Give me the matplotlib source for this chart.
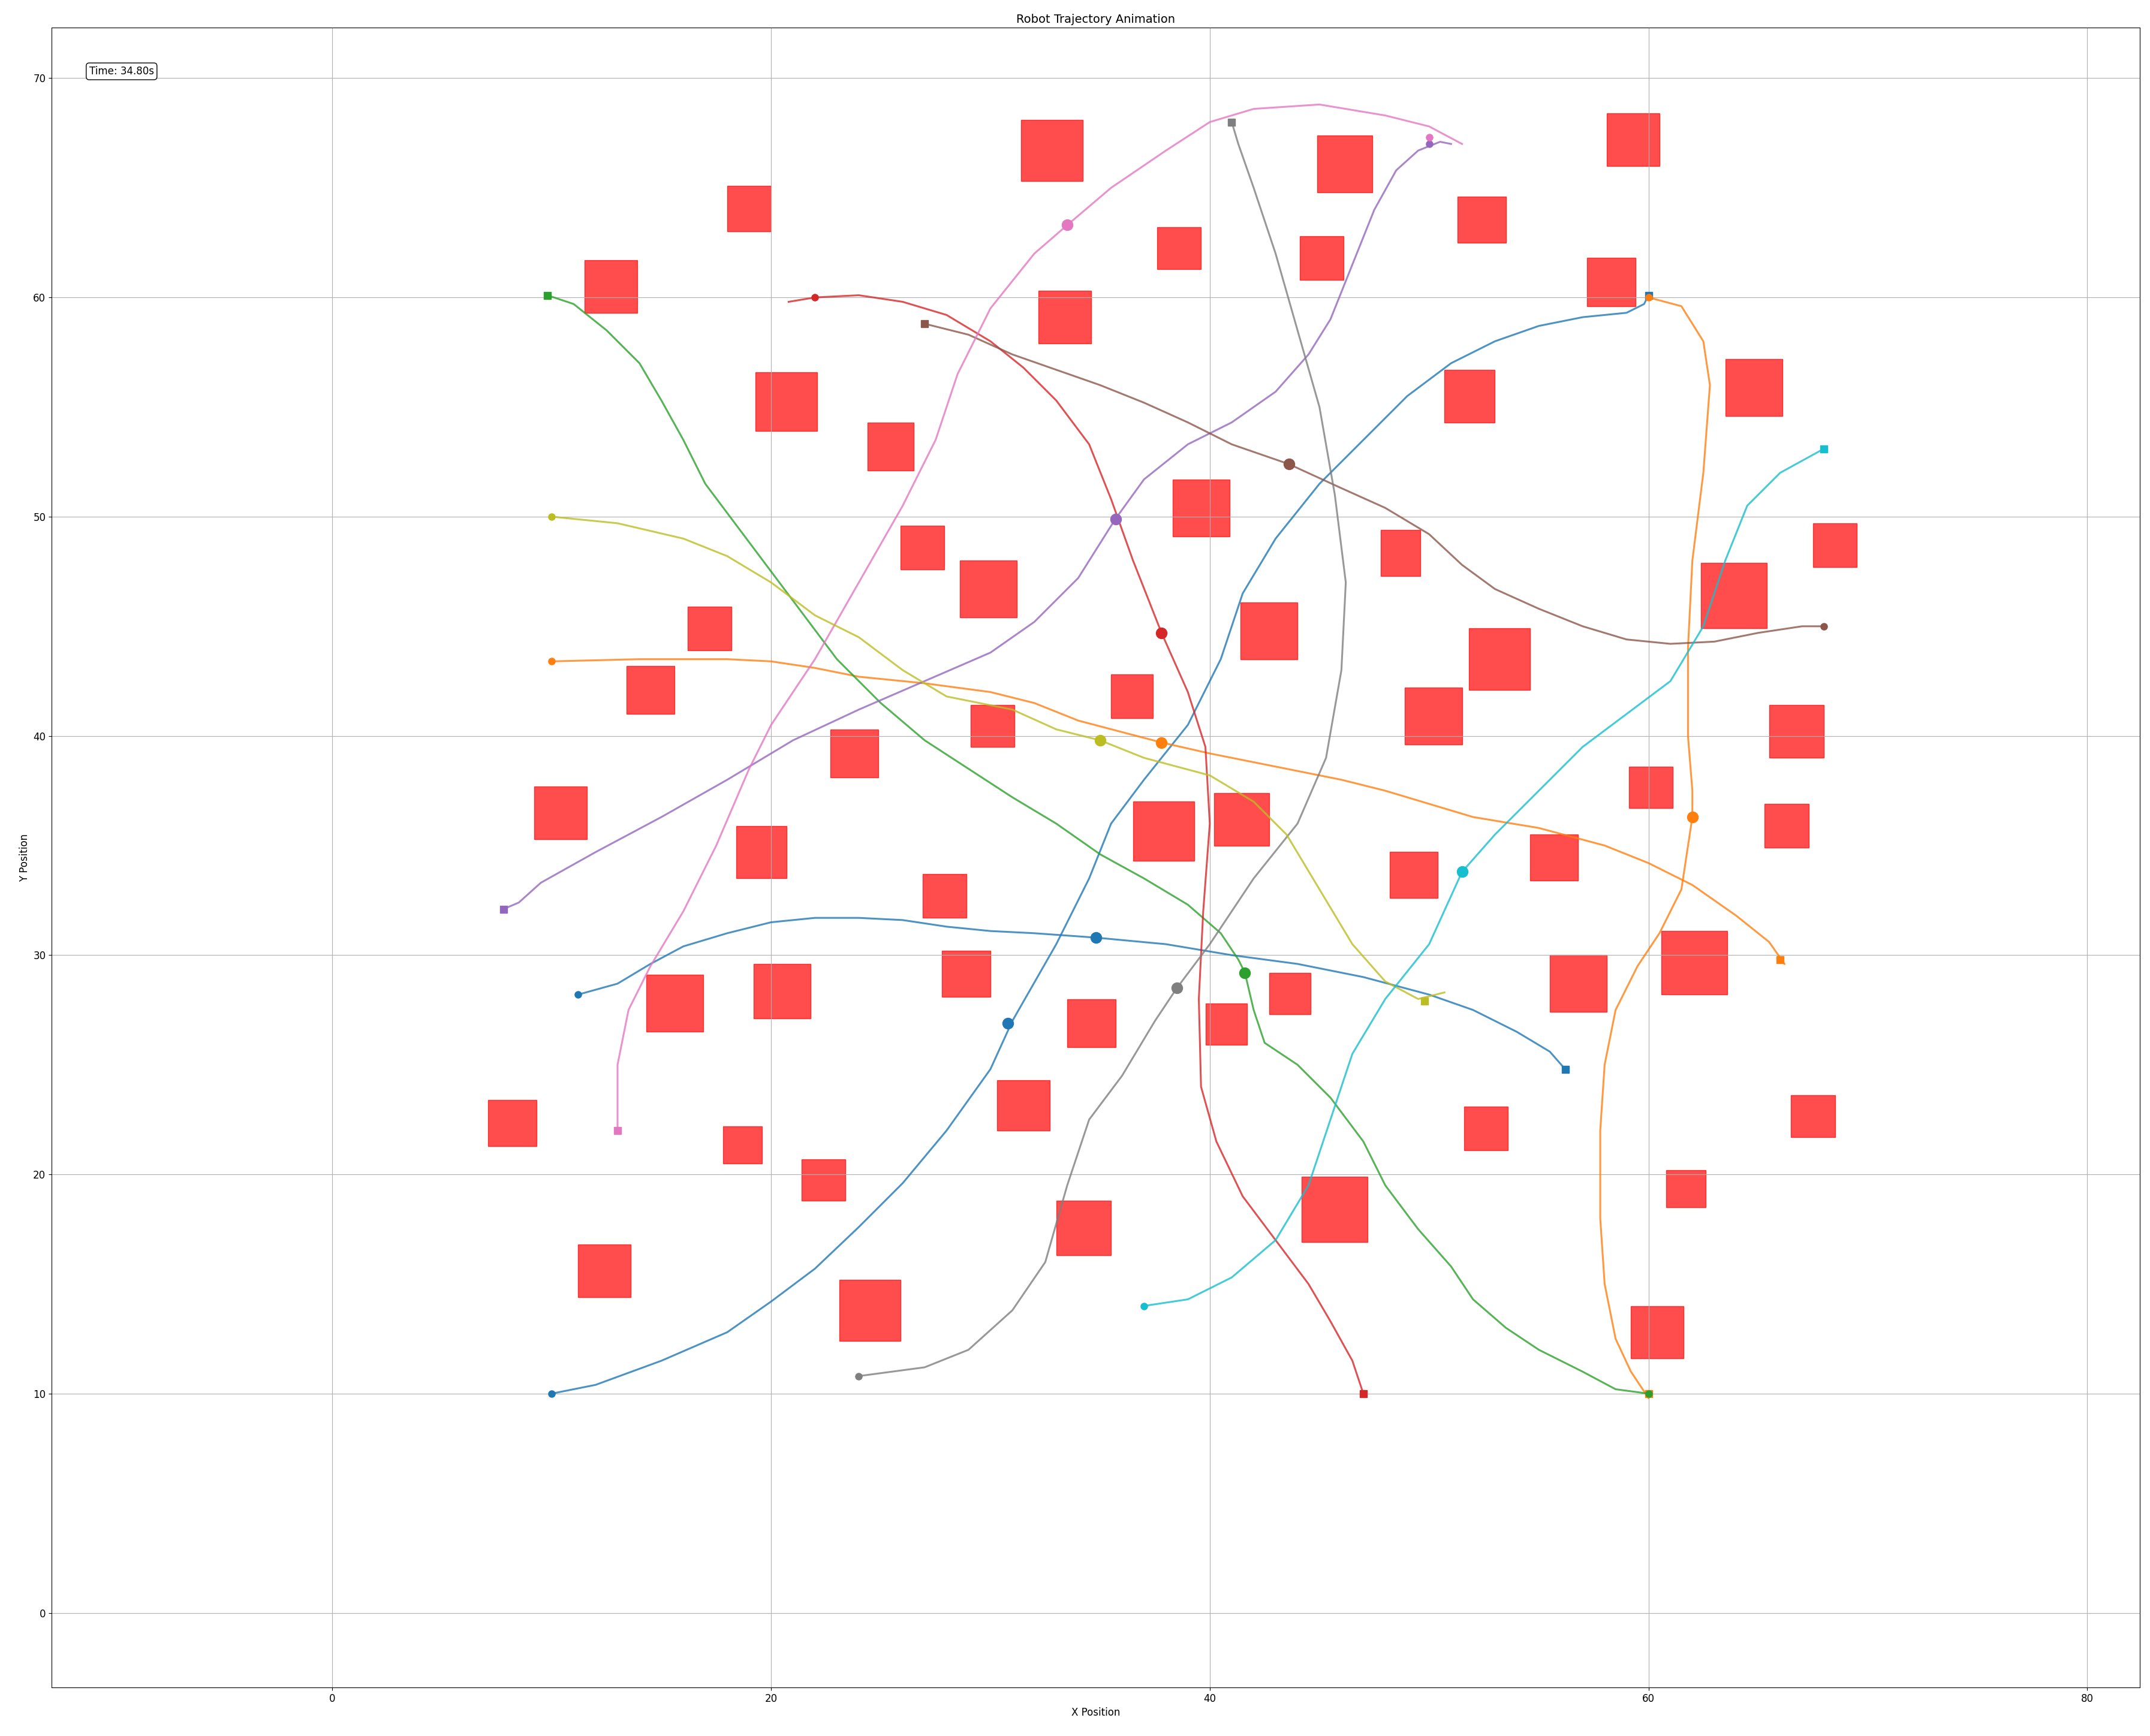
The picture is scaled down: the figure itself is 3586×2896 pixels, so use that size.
import matplotlib
matplotlib.use("Agg")
import matplotlib.pyplot as plt
from matplotlib.patches import Rectangle

# obstacles: (x0, x1, y0, y1)
obstacles = [
    (31.4,34.2,65.3,68.1),(18.0,20.0,63.0,65.1),(11.5,13.9,59.3,61.7),(19.3,22.1,53.9,56.6),
    (24.4,26.5,52.1,54.3),(32.2,34.6,57.9,60.3),(37.6,39.6,61.3,63.2),(44.9,47.4,64.8,67.4),
    (44.1,46.1,60.8,62.8),(51.3,53.5,62.5,64.6),(58.1,60.5,66.0,68.4),(57.2,59.4,59.6,61.8),
    (50.7,53.0,54.3,56.7),(63.5,66.1,54.6,57.2),(38.3,40.9,49.1,51.7),(25.9,27.9,47.6,49.6),
    (28.6,31.2,45.4,48.0),(16.2,18.2,43.9,45.9),(13.4,15.6,41.0,43.2),(41.4,44.0,43.5,46.1),
    (47.8,49.6,47.3,49.4),(51.8,54.6,42.1,44.9),(48.9,51.5,39.6,42.2),(62.4,65.4,44.9,47.9),
    (67.5,69.5,47.7,49.7),(65.5,68.0,39.0,41.4),(35.5,37.4,40.8,42.8),(29.1,31.1,39.5,41.4),
    (22.7,24.9,38.1,40.3),(9.2,11.6,35.3,37.7),(18.4,20.7,33.5,35.9),(26.9,28.9,31.7,33.7),
    (36.5,39.3,34.3,37.0),(40.2,42.7,35.0,37.4),(48.2,50.4,32.6,34.7),(54.6,56.8,33.4,35.5),
    (59.1,61.1,36.7,38.6),(65.3,67.3,34.9,36.9),(60.6,63.6,28.2,31.1),(55.5,58.1,27.4,30.0),
    (14.3,16.9,26.5,29.1),(19.2,21.8,27.1,29.6),(27.8,30.0,28.1,30.2),(33.5,35.7,25.8,28.0),
    (39.8,41.7,25.9,27.8),(42.7,44.6,27.3,29.2),(30.3,32.7,22.0,24.3),(17.8,19.6,20.5,22.2),
    (21.4,23.4,18.8,20.7),(7.1,9.3,21.3,23.4),(11.2,13.6,14.4,16.8),(23.1,25.9,12.4,15.2),
    (33.0,35.5,16.3,18.8),(44.2,47.2,16.9,19.9),(51.6,53.6,21.1,23.1),(60.8,62.6,18.5,20.2),
    (66.5,68.5,21.7,23.6),(59.2,61.6,11.6,14.0),
]

# trajectories: (color, path, start, goal, current)
blue_a = [(10,10),(12,10.4),(15,11.5),(18,12.8),(20,14.2),(22,15.7),(24,17.6),(26,19.6),(28,22),(30,24.8),(31,27),(33,30.5),(34.5,33.5),(35.5,36),(37,38),(39,40.5),(40.5,43.5),(41.5,46.5),(43,49),(45,51.5),(47,53.5),(49,55.5),(51,57),(53,58),(55,58.7),(57,59.1),(59,59.3),(59.8,59.7),(60,60.1)]
blue_b = [(11.2,28.2),(13,28.7),(14.5,29.6),(16,30.4),(18,31),(20,31.5),(22,31.7),(24,31.7),(26,31.6),(28,31.3),(30,31.1),(32,31),(34.8,30.8),(38,30.5),(41,30),(44,29.6),(47,29),(50,28.2),(52,27.5),(54,26.5),(55.5,25.6),(56.2,24.8)]
orange_a = [(10,43.4),(14,43.5),(18,43.5),(20,43.4),(22,43.1),(24,42.7),(27,42.4),(30,42),(32,41.5),(34,40.7),(37.8,39.7),(40,39.2),(43,38.6),(46,38),(48,37.5),(50,36.9),(52,36.3),(55,35.8),(58,35),(60,34.2),(62,33.2),(64,31.8),(65.5,30.6),(66.2,29.6)]
orange_b = [(60,60),(61.5,59.6),(62.5,58),(62.8,56),(62.5,52),(62,48),(61.8,44),(61.8,40),(62,37.5),(62,36.3),(61.5,33),(60.5,31),(59.5,29.5),(58.5,27.5),(58,25),(57.8,22),(57.8,18),(58,15),(58.5,12.5),(59.2,11),(60,9.8)]
green = [(9.8,60.1),(11,59.7),(12.5,58.5),(14,57),(15,55.3),(16,53.5),(17,51.5),(18.5,49.5),(20,47.5),(21.5,45.5),(23,43.5),(25,41.5),(27,39.8),(29,38.5),(31,37.2),(33,36),(35,34.6),(37,33.5),(39,32.3),(40.5,31),(41.3,29.8),(41.6,29.2),(42,27.5),(42.5,26),(44,25),(45.5,23.5),(47,21.5),(48,19.5),(49.5,17.5),(51,15.8),(52,14.3),(53.5,13),(55,12),(57,11),(58.5,10.2),(60,10)]
red = [(20.8,59.8),(22,60),(24,60.1),(26,59.8),(28,59.2),(30,58),(31.5,56.8),(33,55.3),(34.5,53.3),(35.5,50.8),(36.5,48),(37.8,44.7),(39,42),(39.8,39.5),(40,36),(39.7,32),(39.5,28),(39.6,24),(40.3,21.5),(41.5,19),(43,17),(44.5,15),(45.5,13.3),(46.5,11.5),(47,10)]
purple = [(7.8,32.1),(8.5,32.4),(9.5,33.3),(12,34.7),(15,36.3),(18,38),(21,39.8),(24,41.2),(27,42.5),(30,43.8),(32,45.2),(34,47.2),(35.7,49.9),(37,51.7),(39,53.3),(41,54.3),(43,55.7),(44.5,57.4),(45.5,59),(46.5,61.5),(47.5,64),(48.5,65.8),(49.5,66.7),(50.5,67.1),(51,67)]
brown = [(27,58.8),(29,58.3),(31,57.4),(33,56.7),(35,56),(37,55.2),(39,54.3),(41,53.3),(43.6,52.4),(46,51.3),(48,50.4),(50,49.2),(51.5,47.8),(53,46.7),(55,45.8),(57,45),(59,44.4),(61,44.2),(63,44.3),(65,44.7),(67,45),(68,45)]
pink = [(13,22),(13,25),(13.5,27.5),(14.5,29.5),(16,32),(17.5,35),(19,38.5),(20,40.5),(22,43.5),(24,47),(26,50.5),(27.5,53.5),(28.5,56.5),(30,59.5),(32,62),(33.5,63.3),(35.5,65),(38,66.7),(40,68),(42,68.6),(45,68.8),(48,68.3),(50,67.8),(51.5,67)]
gray = [(24,10.8),(27,11.2),(29,12),(31,13.8),(32.5,16),(33.5,19.5),(34.5,22.5),(36,24.5),(37.5,27),(38.5,28.5),(40,30.5),(42,33.5),(44,36),(45.3,39),(46,43),(46.2,47),(45.7,51),(45,55),(44,58.5),(43,62),(42,65),(41.3,67),(41,68)]
olive = [(10,50),(13,49.7),(16,49),(18,48.2),(20,47),(22,45.5),(24,44.5),(26,43),(28,41.8),(31,41.2),(33,40.3),(35,39.8),(37,39),(40,38.2),(42,37),(43.5,35.5),(45,33),(46.5,30.5),(48,28.8),(49.5,28),(50.7,28.3)]
cyan = [(37,14),(39,14.3),(41,15.3),(43,17),(44.5,19.5),(45.5,22.5),(46.5,25.5),(48,28),(50,30.5),(51.5,33.8),(53,35.5),(55,37.5),(57,39.5),(59,41),(61,42.5),(62.5,45),(63.5,48),(64.5,50.5),(66,52),(68,53.1)]

robots = [
    ("tab:blue", blue_a, (10,10), (60,60.1), (30.8,26.9)),
    ("tab:blue", blue_b, (11.2,28.2), (56.2,24.8), (34.8,30.8)),
    ("tab:orange", orange_a, (10,43.4), (66,29.8), (37.8,39.7)),
    ("tab:orange", orange_b, (60,60), (60,10), (62,36.3)),
    ("tab:green", green, (60,10), (9.8,60.1), (41.6,29.2)),
    ("tab:red", red, (22,60), (47,10), (37.8,44.7)),
    ("tab:purple", purple, (50,67), (7.8,32.1), (35.7,49.9)),
    ("tab:brown", brown, (68,45), (27,58.8), (43.6,52.4)),
    ("tab:pink", pink, (50,67.3), (13,22), (33.5,63.3)),
    ("tab:gray", gray, (24,10.8), (41,68), (38.5,28.5)),
    ("tab:olive", olive, (10,50), (49.8,27.9), (35,39.8)),
    ("tab:cyan", cyan, (37,14), (68,53.1), (51.5,33.8)),
]

fig, ax = plt.subplots(figsize=(35.87, 28.96), dpi=100)
fig.subplots_adjust(left=0.024, right=0.995, top=0.984, bottom=0.028)

for x0, x1, y0, y1 in obstacles:
    ax.add_patch(Rectangle((x0, y0), x1 - x0, y1 - y0, facecolor="red", edgecolor="red", alpha=0.7))

for color, path, s, g, c in robots:
    xs, ys = zip(*path)
    ax.plot(xs, ys, color=color, lw=2.2, alpha=0.8)
    ax.plot(*s, "o", color=color, ms=8)
    ax.plot(*g, "s", color=color, ms=8)
    ax.plot(*c, "o", color=color, ms=13)

ax.set_xlim(-12.8, 82.4)
ax.set_ylim(-3.4, 72.3)
ax.grid(True)
ax.set_title("Robot Trajectory Animation", fontsize=14)
ax.set_xlabel("X Position", fontsize=12)
ax.set_ylabel("Y Position", fontsize=12)
ax.tick_params(labelsize=12)
ax.text(0.018, 0.977, "Time: 34.80s", transform=ax.transAxes, fontsize=12, va="top",
        bbox=dict(boxstyle="round", facecolor="white", edgecolor="black"))

fig.savefig("out.png", dpi=100)
